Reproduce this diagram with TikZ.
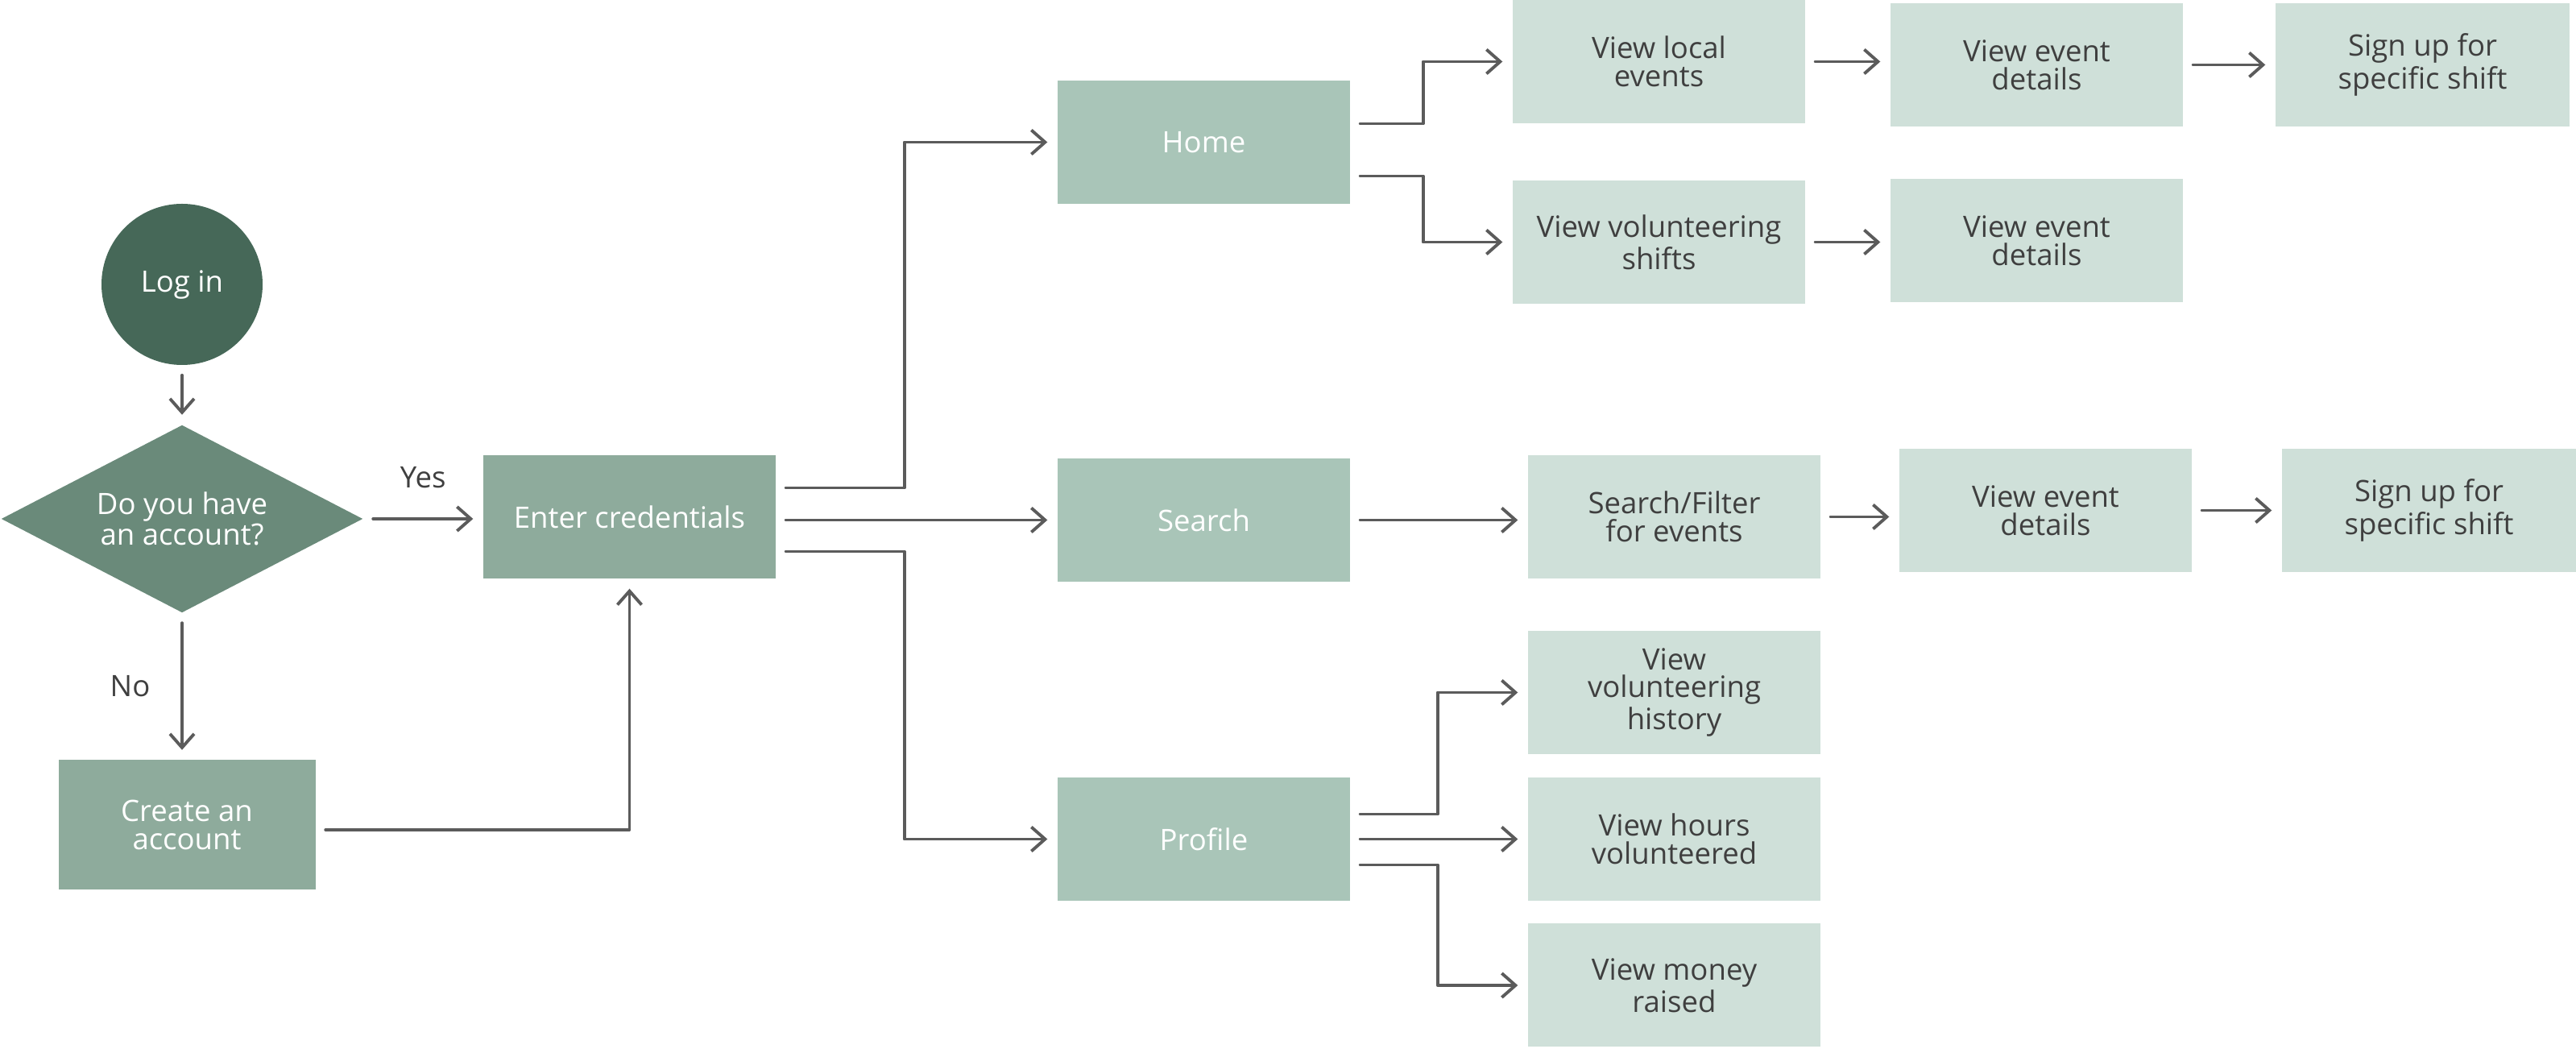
\documentclass[tikz,border=0pt]{standalone}
\usepackage{fontspec}
\setmainfont{Open Sans}
\usetikzlibrary{shapes.geometric,arrows.meta}

\definecolor{startcol}{HTML}{466858}
\definecolor{askcol}{HTML}{6A8A7A}
\definecolor{stepcol}{HTML}{8EAB9C}
\definecolor{pagecol}{HTML}{A9C5B8}
\definecolor{leafcol}{HTML}{CFE0D9}
\definecolor{linecol}{HTML}{5B5B5B}
\definecolor{textcol}{HTML}{3F3F3F}

\begin{document}
\begin{tikzpicture}[>={Straight Barb[length=1.7mm,width=3mm]},line join=round,line cap=round,font=\fontsize{10.4}{9.9}\selectfont]
	\tikzset{
		box/.style={rectangle,minimum width=3.63cm,minimum height=1.53cm,inner sep=0pt,align=center},
		stepbox/.style={box,fill=stepcol,text=white},
		pagebox/.style={box,fill=pagecol,text=white},
		leafbox/.style={box,fill=leafcol,text=textcol},
		arr/.style={->,draw=linecol,line width=1.1pt,shorten <=1.2mm,shorten >=1.2mm},
		lbl/.style={text=textcol}
	}
	\useasboundingbox (0,0) rectangle (31.98,13.02);
	
	% --- Đăng nhập ---
	\node[circle,fill=startcol,text=white,minimum size=2cm,inner sep=0pt] (login) at (2.26,9.49) {Log in};
	\node[diamond,fill=askcol,text=white,align=center,shape aspect=1.93,inner sep=0pt,minimum width=4.49cm,minimum height=2.33cm] (ask) at (2.26,6.58) {Do you have\\an account?};
	\node[stepbox] (enter) at (7.815,6.605) {Enter credentials};
	\node[stepbox,minimum width=3.19cm,minimum height=1.61cm] (create) at (2.32,2.78) {Create an\\account};
	
	% --- Các trang chính ---
	\node[pagebox] (home) at (14.945,11.255) {Home};
	\node[pagebox] (search) at (14.945,6.565) {Search};
	\node[pagebox] (profile) at (14.945,2.605) {Profile};
	
	% --- Home ---
	\node[leafbox] (local) at (20.595,12.255) {View local\\events};
	\node[leafbox] (shifts) at (20.595,10.015) {View volunteering\\shifts};
	\node[leafbox] (details1) at (25.285,12.215) {View event\\details};
	\node[leafbox,minimum width=3.65cm] (signup1) at (30.075,12.215) {Sign up for\\specific shift};
	\node[leafbox] (details2) at (25.285,10.035) {View event\\details};
	
	% --- Search ---
	\node[leafbox] (filter) at (20.785,6.605) {Search/Filter\\for events};
	\node[leafbox] (details3) at (25.395,6.685) {View event\\details};
	\node[leafbox,minimum width=3.65cm] (signup2) at (30.155,6.685) {Sign up for\\specific shift};
	
	% --- Profile ---
	\node[leafbox] (history) at (20.785,4.425) {View\\volunteering\\history};
	\node[leafbox] (hours) at (20.785,2.605) {View hours\\volunteered};
	\node[leafbox] (money) at (20.785,0.79) {View money\\raised};
	
	% --- Mũi tên ---
	\draw[arr] (login) -- (ask);
	\draw[arr] (ask.east) -- (ask.east -| enter.west) node[midway,above=2.4mm,lbl] {Yes};
	\draw[arr] (ask.south) -- (ask.south |- create.north) node[midway,left=2.6mm,lbl] {No};
	\draw[arr] ([yshift=-0.06cm]create.east) -| (enter.south);
	
	\draw[arr] ([yshift=0.36cm]enter.east) -- ++(1.59,0) |- (home.west);
	\draw[arr] (enter.east |- search) -- (search.west);
	\draw[arr] ([yshift=-0.43cm]enter.east) -- ++(1.59,0) |- (profile.west);
	
	\draw[arr] ([yshift=0.23cm]home.east) -- ++(0.9,0) |- (local.west);
	\draw[arr] ([yshift=-0.42cm]home.east) -- ++(0.9,0) |- (shifts.west);
	\draw[arr] (local.east) -- (local.east -| details1.west);
	\draw[arr] (details1) -- (signup1);
	\draw[arr] (shifts.east) -- (shifts.east -| details2.west);
	
	\draw[arr] (search.east) -- (search.east -| filter.west);
	\draw[arr] (filter.east) -- (filter.east -| details3.west);
	\draw[arr] (details3) -- (signup2);
	
	\draw[arr] ([yshift=0.31cm]profile.east) -- ++(1.08,0) |- (history.west);
	\draw[arr] (profile.east) -- (profile.east -| hours.west);
	\draw[arr] ([yshift=-0.32cm]profile.east) -- ++(1.08,0) |- (money.west);
\end{tikzpicture}
\end{document}
